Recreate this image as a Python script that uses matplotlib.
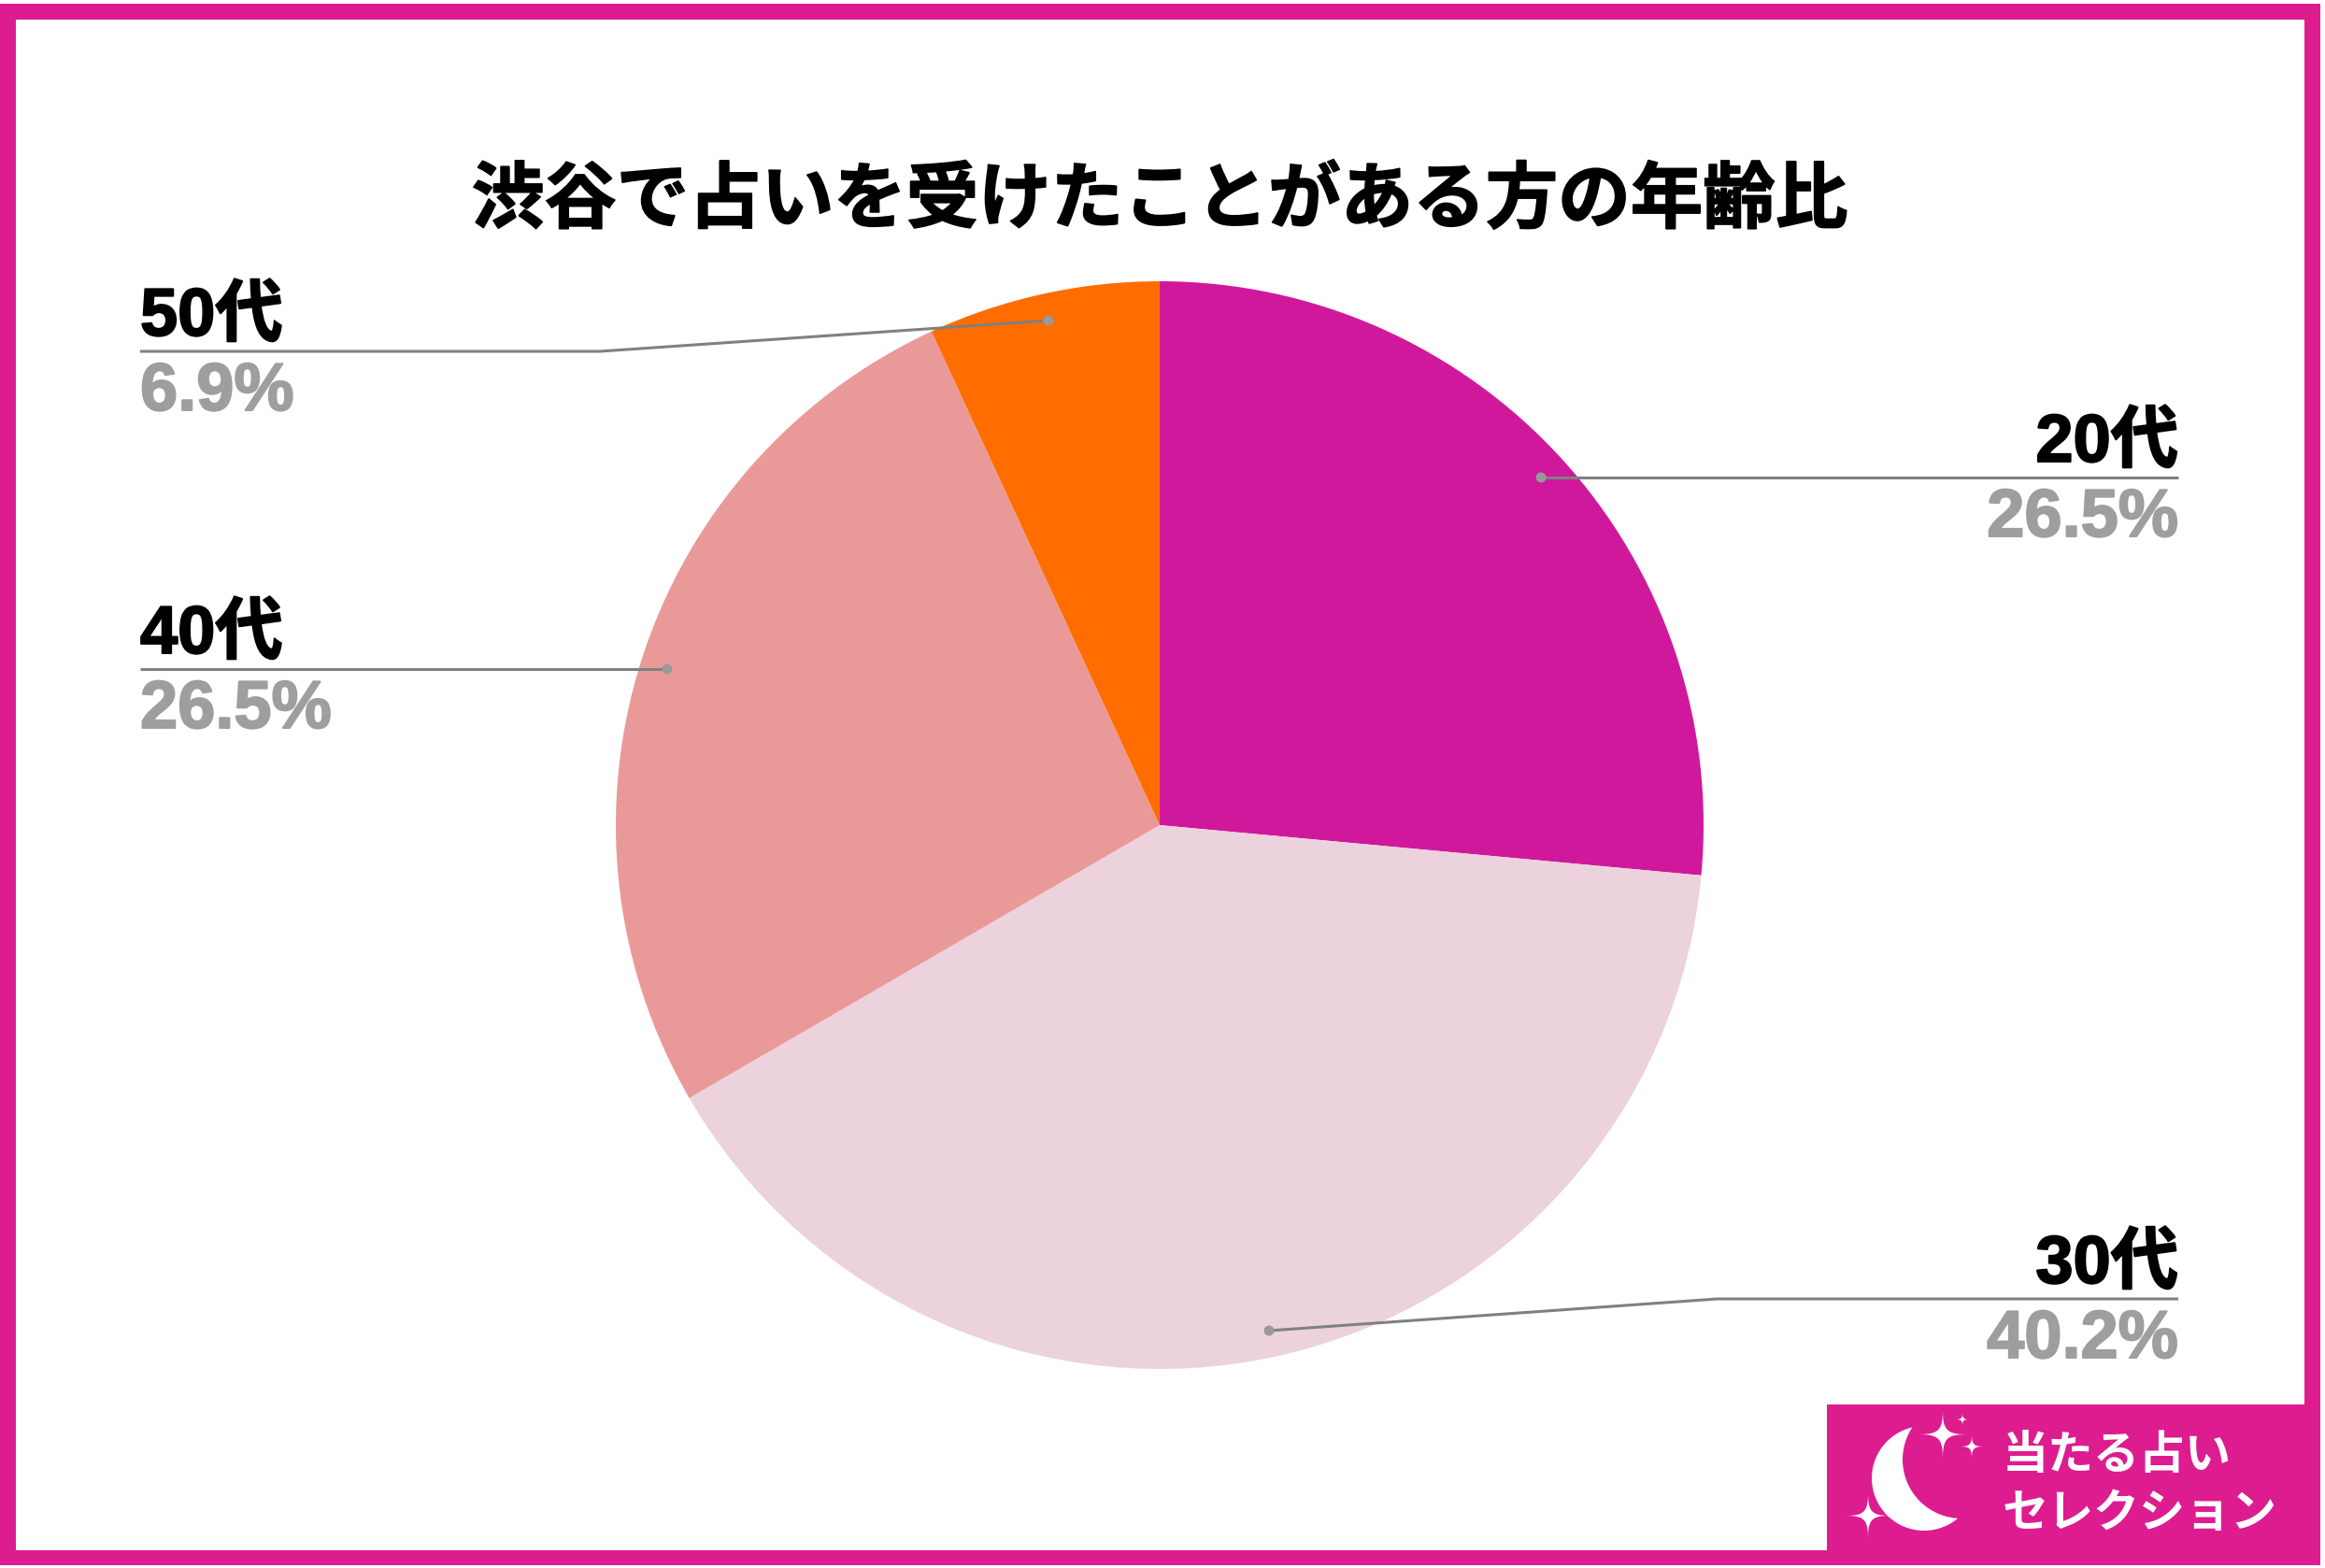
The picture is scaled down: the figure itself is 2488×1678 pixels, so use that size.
import numpy as np
import matplotlib
matplotlib.use("Agg")
import matplotlib.pyplot as plt
import matplotlib.patheffects as pe
from matplotlib.patches import Rectangle, Circle, Polygon

categories = ["20代", "30代", "40代", "50代"]
values = [26.5, 40.2, 26.5, 6.9]
pct_labels = ["26.5%", "40.2%", "26.5%", "6.9%"]
colors = ["#D0189C", "#ECD2DD", "#EA9999", "#FF6D00"]
title = "渋谷で占いを受けたことがある方の年齢比"
logo_lines = ["当たる占い", "セレクション"]

W, H = 2488, 1678
PINK = "#DD1C90"
JP = "Noto Sans CJK JP"
LAB = ["Liberation Sans", JP]

fig = plt.figure(figsize=(W / 100, H / 100), dpi=100, facecolor="white")
ax = fig.add_axes([0, 0, 1, 1])

# frame
ax.add_patch(Rectangle((0, 4), 2483, 1671, fc=PINK, ec="none", zorder=0))
ax.add_patch(Rectangle((17, 21), 2449, 1638, fc="white", ec="none", zorder=0.5))

# pie (y axis is inverted afterwards, so draw counter-clockwise in data space)
ax.pie(values, colors=colors, startangle=-90, counterclock=True,
       center=(1241, 883), radius=582, frame=False,
       wedgeprops=dict(linewidth=0))
ax.set_xlim(0, W)
ax.set_ylim(H, 0)
ax.set_aspect("equal")
ax.axis("off")

# leader lines: (category index, polyline, side)
leaders = [
    (0, [(1649, 511), (2331, 511)], "right"),
    (1, [(1358, 1424), (1838, 1390), (2331, 1390)], "right"),
    (2, [(714, 716), (150, 716)], "left"),
    (3, [(1122, 343), (642, 376), (150, 376)], "left"),
]
for i, pts, side in leaders:
    xs, ys = zip(*pts)
    ax.plot(xs, ys, color="#808080", lw=2.2, zorder=5, solid_capstyle="butt")
    ax.add_patch(Circle(pts[0], 5.5, fc="#999999", ec="none", zorder=6))
    x_end, y_line = pts[-1]
    ha = "right" if side == "right" else "left"
    t1 = ax.text(x_end, y_line - 17, categories[i], family=LAB, weight="bold",
                 fontsize=52, color="black", ha=ha, va="baseline", zorder=7)
    t1.set_path_effects([pe.withStroke(linewidth=1.4, foreground="black")])
    t2 = ax.text(x_end, y_line + 63, pct_labels[i], family=LAB, weight="bold",
                 fontsize=52, color="#9E9E9E", ha=ha, va="baseline", zorder=7)
    t2.set_path_effects([pe.withStroke(linewidth=1.4, foreground="#9E9E9E")])

# title
tt = ax.text(1241, 215, title, family=JP, weight="bold", fontsize=55.8,
             color="black", ha="center", va="center", zorder=7)
tt.set_path_effects([pe.withStroke(linewidth=1.2, foreground="black")])

# logo
box = Rectangle((1955, 1503), 511, 156, fc=PINK, ec="none", zorder=8)
ax.add_patch(box)
ax.add_patch(Circle((2059, 1582), 56, fc="white", ec="none", zorder=9))
bite = Circle((2099, 1562), 63, fc=PINK, ec="none", zorder=10)
ax.add_patch(bite)
bite.set_clip_path(box)


def sparkle(cx, cy, r):
    t = np.linspace(0, 2 * np.pi, 240)
    c, s = np.cos(t), np.sin(t)
    px = r * np.sign(c) * np.abs(c) ** 5
    py = r * np.sign(s) * np.abs(s) ** 5
    ax.add_patch(Polygon(np.c_[cx + px, cy + py], closed=True, fc="white",
                         ec="none", zorder=11))


for cx, cy, r in [(2079, 1535, 28), (2100, 1519, 8), (2110, 1548, 14), (1999, 1622, 26)]:
    sparkle(cx, cy, r)

for line, y in zip(logo_lines, [1558, 1619]):
    ax.text(2143, y, line, family=JP, weight="bold", fontsize=35.3, color="white",
            ha="left", va="center", zorder=11)

fig.savefig("out.png", dpi=100, facecolor="white")
